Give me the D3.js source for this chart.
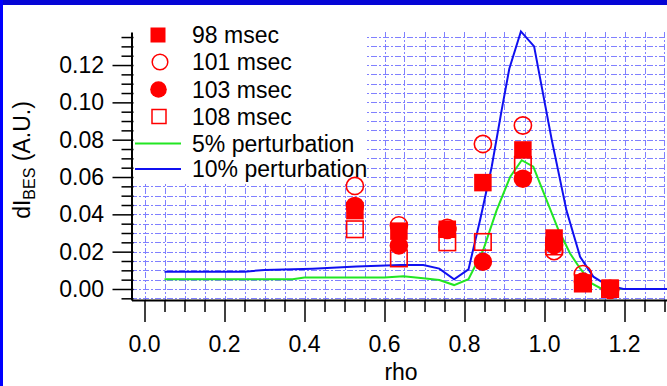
<!DOCTYPE html>
<html><head><meta charset="utf-8">
<script src="https://cdn.jsdelivr.net/npm/d3@7"></script>
<style>
body{margin:0;background:#fff;}
svg{display:block;font-family:"Liberation Sans",Arial,sans-serif;}
</style>
</head><body>
<svg id="c" width="667" height="386"></svg>
<script>
// ---- data ----
const measRho = [0.526, 0.636, 0.757, 0.846, 0.946, 1.024, 1.096, 1.164];
const ms98  = [0.042, 0.031, 0.032, 0.057, 0.0745, 0.0273, 0.003, 0.0005];
const ms101 = [0.0552, 0.0341, 0.0327, 0.0777, 0.0876, 0.0203, 0.008, 0.0];
const ms103 = [0.0445, 0.0233, 0.0316, 0.0146, 0.0591, 0.0236, 0.004, -0.0005];
const ms108 = [0.032, 0.0164, 0.025, 0.0252, 0.0665, 0.0228, 0.003, 0.0];

const pert5Rho = [0.05, 0.37, 0.40, 0.60, 0.647, 0.697, 0.737, 0.774, 0.81, 0.847, 0.88, 0.914, 0.943, 0.972, 1.035, 1.064, 1.089, 1.118, 1.14, 1.2, 1.31];
const pert5Val = [0.0052, 0.0052, 0.0062, 0.0062, 0.0068, 0.0058, 0.0048, 0.0021, 0.0052, 0.021, 0.042, 0.060, 0.069, 0.0655, 0.0316, 0.019, 0.011, 0.003, 0.0004, 0.0, 0.0];

const pert10Rho = [0.05, 0.25, 0.30, 0.42, 0.53, 0.64, 0.697, 0.737, 0.774, 0.81, 0.839, 0.868, 0.893, 0.912, 0.941, 0.974, 1.018, 1.055, 1.089, 1.122, 1.156, 1.197, 1.31];
const pert10Val = [0.0093, 0.0093, 0.0102, 0.0109, 0.012, 0.0129, 0.0129, 0.0109, 0.0052, 0.0105, 0.037, 0.0655, 0.096, 0.118, 0.138, 0.130, 0.080, 0.042, 0.0173, 0.0066, 0.0021, 0.0, 0.0];

const xTickVals = [0.0, 0.2, 0.4, 0.6, 0.8, 1.0, 1.2];
const xTickLabels = ["0.0", "0.2", "0.4", "0.6", "0.8", "1.0", "1.2"];
const yTickVals = [0.00, 0.02, 0.04, 0.06, 0.08, 0.10, 0.12];
const yTickLabels = ["0.00", "0.02", "0.04", "0.06", "0.08", "0.10", "0.12"];

const legendLabels = ["98 msec", "101 msec", "103 msec", "108 msec", "5% perturbation", "10% perturbation"];

// ---- setup ----
const svg = d3.select("#c");
const RED = "#ff0000", GREEN = "#22e622", BLUE = "#1010f0";
const x = d3.scaleLinear().domain([-0.0325, 1.3075]).range([131.5, 667.5]);
const y = d3.scaleLinear().domain([-0.0059, 0.1377]).range([300, 32]);

svg.append("rect").attr("x",0).attr("y",0).attr("width",667).attr("height",386).attr("fill","#fff");

// grid
const grid = svg.append("g").attr("stroke","#6a6aff").attr("stroke-width",1).attr("stroke-dasharray","6,2,2,2").attr("opacity",0.85);
const gxVals = d3.range(0, 1.301, 0.05);
const gyVals = d3.range(-0.005, 0.1351, 0.005);
grid.selectAll("line.v").data(gxVals).join("line")
  .attr("x1", d => Math.round(x(d)) + 0.5).attr("x2", d => Math.round(x(d)) + 0.5)
  .attr("y1", y(0.1377)).attr("y2", 300);
grid.selectAll("line.h").data(gyVals).join("line")
  .attr("y1", d => Math.round(y(d)) + 0.5).attr("y2", d => Math.round(y(d)) + 0.5)
  .attr("x1", 131).attr("x2", 667);

// legend background box
svg.append("rect").attr("x",133).attr("y",30).attr("width",234).attr("height",154).attr("fill","#fff");

// axes
const fs = 23;
const xAxis = d3.axisBottom(x).tickValues(d3.range(0, 1.301, 0.05)).tickFormat("").tickSizeOuter(0);
const gx = svg.append("g").attr("transform","translate(0,300)").call(xAxis);
gx.select(".domain").attr("stroke","#000").attr("stroke-width",2);
gx.selectAll(".tick line").attr("stroke","#000").attr("stroke-width",1.5)
  .attr("y2", d => (Math.abs(d*10 - Math.round(d*10)) < 1e-6 && Math.round(d*10) % 2 === 0) ? 22 : 12);
svg.append("g").selectAll("text").data(xTickVals).join("text")
  .attr("x", d => x(d)).attr("y", 352).attr("text-anchor","middle")
  .attr("font-size", fs).attr("fill","#000").text((d,i) => xTickLabels[i]);

const yAxis = d3.axisLeft(y).tickValues(d3.range(-0.005, 0.1351, 0.005)).tickFormat("").tickSizeOuter(0);
const gy = svg.append("g").attr("transform","translate(131.5,0)").call(yAxis);
gy.select(".domain").attr("stroke","#000").attr("stroke-width",2);
gy.selectAll(".tick line").attr("stroke","#000").attr("stroke-width",1.5)
  .attr("x1", 2)
  .attr("x2", d => { const k = Math.round(d*1000); return (k % 20 === 0) ? -19 : -10; });
svg.append("g").selectAll("text").data(yTickVals).join("text")
  .attr("x", 104).attr("y", d => y(d) + 8).attr("text-anchor","end")
  .attr("font-size", fs).attr("fill","#000").text((d,i) => yTickLabels[i]);

// axis titles
svg.append("text").attr("x", 401).attr("y", 380).attr("text-anchor","middle")
  .attr("font-size", fs).attr("fill","#000").text("rho");
const yt = svg.append("text").attr("transform","translate(30,160) rotate(-90)")
  .attr("text-anchor","middle").attr("font-size", fs).attr("fill","#000");
yt.append("tspan").text("dI");
yt.append("tspan").attr("font-size", 16).attr("dy", 5).text("BES");
yt.append("tspan").attr("dy", -5).text(" (A.U.)");

// lines
const line = d3.line().x(d => x(d[0])).y(d => y(d[1]));
svg.append("path").datum(pert5Rho.map((r,i) => [r, pert5Val[i]]))
  .attr("d", line).attr("fill","none").attr("stroke",GREEN).attr("stroke-width",2);
svg.append("path").datum(pert10Rho.map((r,i) => [r, pert10Val[i]]))
  .attr("d", line).attr("fill","none").attr("stroke",BLUE).attr("stroke-width",2);

// markers
const S = 17.5, SO = 16.5, R = 9.3, RO = 8.6;
const m = svg.append("g");
function drawSeries(vals, type) {
  const pts = measRho.map((r,i) => [x(r), y(vals[i])]);
  if (type === "fsq") {
    m.append("g").selectAll("rect").data(pts).join("rect")
      .attr("x", d => d[0]-S/2).attr("y", d => d[1]-S/2).attr("width",S).attr("height",S).attr("fill",RED);
  } else if (type === "osq") {
    m.append("g").selectAll("rect").data(pts).join("rect")
      .attr("x", d => d[0]-SO/2).attr("y", d => d[1]-SO/2).attr("width",SO).attr("height",SO)
      .attr("fill","none").attr("stroke",RED).attr("stroke-width",1.6);
  } else if (type === "fci") {
    m.append("g").selectAll("circle").data(pts).join("circle")
      .attr("cx", d => d[0]).attr("cy", d => d[1]).attr("r",R).attr("fill",RED);
  } else {
    m.append("g").selectAll("circle").data(pts).join("circle")
      .attr("cx", d => d[0]).attr("cy", d => d[1]).attr("r",RO)
      .attr("fill","none").attr("stroke",RED).attr("stroke-width",1.6);
  }
}
drawSeries(ms108, "osq");
drawSeries(ms101, "oci");
drawSeries(ms98, "fsq");
drawSeries(ms103, "fci");

// legend
const lg = svg.append("g");
const rowY = [35, 62, 89.5, 116.5, 143.5, 169];
lg.append("rect").attr("x",150.5).attr("y",rowY[0]-7.5).attr("width",15).attr("height",15).attr("fill",RED);
lg.append("circle").attr("cx",160).attr("cy",rowY[1]).attr("r",7.8).attr("fill","none").attr("stroke",RED).attr("stroke-width",1.5);
lg.append("circle").attr("cx",158.5).attr("cy",rowY[2]).attr("r",8.3).attr("fill",RED);
lg.append("rect").attr("x",152).attr("y",rowY[3]-7).attr("width",14).attr("height",14).attr("fill","none").attr("stroke",RED).attr("stroke-width",1.5);
lg.append("line").attr("x1",135).attr("x2",181).attr("y1",rowY[4]).attr("y2",rowY[4]).attr("stroke",GREEN).attr("stroke-width",2);
lg.append("line").attr("x1",135).attr("x2",181).attr("y1",rowY[5]).attr("y2",rowY[5]).attr("stroke",BLUE).attr("stroke-width",2);
lg.selectAll("text").data(legendLabels).join("text")
  .attr("x",192).attr("y",(d,i) => rowY[i] + 8).attr("font-size",fs).attr("fill","#000").text(d => d);

// blue frame
svg.append("rect").attr("x",0).attr("y",0).attr("width",667).attr("height",5).attr("fill","#0505d5");
svg.append("rect").attr("x",0).attr("y",0).attr("width",3).attr("height",386).attr("fill","#0000ff");
</script>
</body></html>
